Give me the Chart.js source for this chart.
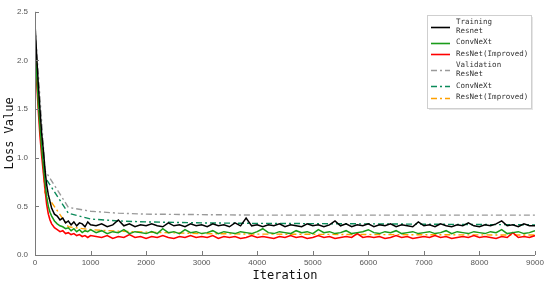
<!DOCTYPE html>
<html>
<head>
<meta charset="utf-8">
<script src="https://cdn.jsdelivr.net/npm/chart.js@4/dist/chart.umd.min.js"></script>
<style>
  html, body { margin: 0; padding: 0; background: #fff; }
  #wrap { width: 550px; height: 286px; }
</style>
</head>
<body>
<div id="wrap"><canvas id="c" width="550" height="286"></canvas></div>
<script>
// iterations for the training curves
const iters = [0, 30, 60, 90, 120, 150, 180, 210, 240, 270, 300, 350, 400, 450, 500, 550, 600, 650, 700, 750, 800, 850, 900, 950, 1000,
  1100, 1200, 1300, 1400, 1500, 1600, 1700, 1800, 1900, 2000,
  2100, 2200, 2300, 2400, 2500, 2600, 2700, 2800, 2900, 3000,
  3100, 3200, 3300, 3400, 3500, 3600, 3700, 3800, 3900, 4000,
  4100, 4200, 4300, 4400, 4500, 4600, 4700, 4800, 4900, 5000,
  5100, 5200, 5300, 5400, 5500, 5600, 5700, 5800, 5900, 6000,
  6100, 6200, 6300, 6400, 6500, 6600, 6700, 6800, 6900, 7000,
  7100, 7200, 7300, 7400, 7500, 7600, 7700, 7800, 7900, 8000,
  8100, 8200, 8300, 8400, 8500, 8600, 8700, 8800, 8900, 9000];

const trainResnet = [2.38, 2.05, 1.75, 1.49, 1.25, 1.08, 0.88, 0.72, 0.62, 0.55, 0.48, 0.42, 0.40, 0.36, 0.38, 0.33, 0.35, 0.31, 0.34, 0.30, 0.33, 0.32, 0.29, 0.34, 0.31,
  0.30, 0.32, 0.29, 0.31, 0.36, 0.30, 0.32, 0.29, 0.31, 0.30,
  0.32, 0.30, 0.29, 0.33, 0.30, 0.31, 0.29, 0.32, 0.30, 0.31,
  0.29, 0.32, 0.30, 0.31, 0.29, 0.33, 0.30, 0.38, 0.30, 0.31,
  0.29, 0.31, 0.30, 0.32, 0.29, 0.31, 0.30, 0.29, 0.32, 0.30,
  0.31, 0.29, 0.31, 0.35, 0.30, 0.32, 0.29, 0.31, 0.30, 0.32,
  0.29, 0.31, 0.30, 0.32, 0.29, 0.31, 0.30, 0.29, 0.34, 0.30,
  0.31, 0.29, 0.32, 0.30, 0.29, 0.31, 0.30, 0.33, 0.30, 0.29,
  0.31, 0.30, 0.32, 0.35, 0.30, 0.31, 0.29, 0.32, 0.30, 0.30];

const trainConvNeXt = [2.15, 1.85, 1.55, 1.30, 1.10, 0.92, 0.75, 0.60, 0.50, 0.44, 0.40, 0.35, 0.32, 0.30, 0.29, 0.27, 0.28, 0.25, 0.27, 0.24, 0.26, 0.23, 0.25, 0.24, 0.26,
  0.23, 0.25, 0.22, 0.24, 0.23, 0.26, 0.22, 0.24, 0.23, 0.22,
  0.24, 0.22, 0.27, 0.23, 0.24, 0.22, 0.26, 0.23, 0.24, 0.22,
  0.23, 0.25, 0.22, 0.24, 0.23, 0.22, 0.24, 0.23, 0.22, 0.24,
  0.27, 0.23, 0.22, 0.24, 0.23, 0.22, 0.25, 0.23, 0.24, 0.22,
  0.26, 0.23, 0.24, 0.22, 0.23, 0.25, 0.22, 0.23, 0.24, 0.26,
  0.23, 0.22, 0.24, 0.23, 0.25, 0.22, 0.23, 0.24, 0.22, 0.23,
  0.24, 0.22, 0.23, 0.25, 0.22, 0.24, 0.23, 0.22, 0.24, 0.23,
  0.22, 0.24, 0.23, 0.26, 0.22, 0.23, 0.24, 0.22, 0.23, 0.25];

const trainImproved = [2.12, 1.78, 1.48, 1.22, 1.02, 0.85, 0.68, 0.52, 0.42, 0.36, 0.32, 0.28, 0.26, 0.24, 0.25, 0.22, 0.23, 0.21, 0.22, 0.20, 0.21, 0.19, 0.20, 0.18, 0.20,
  0.19, 0.18, 0.20, 0.17, 0.19, 0.18, 0.21, 0.18, 0.19, 0.17,
  0.19, 0.18, 0.20, 0.18, 0.17, 0.19, 0.18, 0.20, 0.18, 0.19,
  0.18, 0.20, 0.17, 0.19, 0.18, 0.19, 0.17, 0.18, 0.20, 0.18,
  0.19, 0.18, 0.17, 0.19, 0.18, 0.20, 0.18, 0.19, 0.17, 0.18,
  0.20, 0.18, 0.19, 0.17, 0.18, 0.19, 0.18, 0.22, 0.18, 0.19,
  0.18, 0.19, 0.17, 0.18, 0.20, 0.18, 0.19, 0.17, 0.18, 0.19,
  0.18, 0.20, 0.18, 0.19, 0.17, 0.18, 0.19, 0.18, 0.20, 0.18,
  0.19, 0.18, 0.17, 0.19, 0.18, 0.23, 0.18, 0.19, 0.18, 0.20];

// validation curves (smooth)
const valIters = [0, 180, 600, 1000, 1500, 2000, 3000, 4000, 6000, 9000];
const valResnet = [2.35, 0.87, 0.49, 0.45, 0.43, 0.42, 0.415, 0.41, 0.41, 0.41];
const valConvNeXt = [2.2, 0.80, 0.43, 0.37, 0.35, 0.34, 0.33, 0.325, 0.32, 0.31];
const valImproved = [2.1, 0.64, 0.29, 0.26, 0.245, 0.235, 0.22, 0.215, 0.21, 0.205];

const xTicks = [0, 1000, 2000, 3000, 4000, 5000, 6000, 7000, 8000, 9000];
const yTicks = [0, 0.5, 1.0, 1.5, 2.0, 2.5];

const monoFont = "'DejaVu Sans Mono', 'Liberation Mono', monospace";
const dashDot = [6, 3, 2, 3];

function pts(xs, ys) {
  return xs.map((x, i) => ({ x: x, y: ys[i] }));
}

function line(label, xs, ys, color, dash, width) {
  return {
    label: label,
    data: pts(xs, ys),
    borderColor: color,
    backgroundColor: color,
    borderWidth: width,
    borderDash: dash,
    pointRadius: 0,
    tension: 0,
    fill: false
  };
}

const datasets = [
  line('Resnet', iters, trainResnet, '#000000', [], 1.5),
  line('ConvNeXt', iters, trainConvNeXt, '#1a9c1a', [], 1.5),
  line('ResNet(Improved)', iters, trainImproved, '#ff0000', [], 1.6),
  line('ResNet', valIters, valResnet, '#9a9a9a', dashDot, 1.4),
  line('ConvNeXt', valIters, valConvNeXt, '#0b8a5a', dashDot, 1.4),
  line('ResNet(Improved)', valIters, valImproved, '#ffa000', dashDot, 1.4)
];

// legend entries: [dataset index, text lines]
const legendItems = [
  [0, ['Training', 'Resnet']],
  [1, ['ConvNeXt']],
  [2, ['ResNet(Improved)']],
  [3, ['Validation', 'ResNet']],
  [4, ['ConvNeXt']],
  [5, ['ResNet(Improved)']]
];

const axesPlugin = {
  id: 'axesPlugin',
  afterDraw(chart) {
    const ctx = chart.ctx;
    const xs = chart.scales.x, ys = chart.scales.y;
    const a = chart.chartArea;
    ctx.save();
    ctx.strokeStyle = '#7a7a7a';
    ctx.lineWidth = 1;
    ctx.beginPath();
    ctx.moveTo(a.left + 0.5, a.top);
    ctx.lineTo(a.left + 0.5, a.bottom + 0.5);
    ctx.lineTo(a.right, a.bottom + 0.5);
    xTicks.forEach(v => {
      const px = Math.round(xs.getPixelForValue(v)) + 0.5;
      ctx.moveTo(px, a.bottom);
      ctx.lineTo(px, a.bottom - 4);
    });
    yTicks.forEach(v => {
      const py = Math.round(ys.getPixelForValue(v)) + 0.5;
      ctx.moveTo(a.left, py);
      ctx.lineTo(a.left + 4, py);
    });
    ctx.stroke();

    // legend box
    const bx = 427.5, by = 15.5, bw = 104, bh = 93;
    ctx.fillStyle = '#e6e6e6';
    ctx.fillRect(bx + 1.5, by + 1.5, bw, bh);
    ctx.fillStyle = '#ffffff';
    ctx.fillRect(bx, by, bw, bh);
    ctx.strokeStyle = '#cfcfcf';
    ctx.strokeRect(bx, by, bw, bh);

    ctx.font = '7.5px ' + monoFont;
    ctx.textBaseline = 'middle';
    ctx.textAlign = 'left';
    let y = 22;
    legendItems.forEach(item => {
      const ds = datasets[item[0]];
      const lines = item[1];
      const mid = y + (lines.length - 1) * 4.5;
      ctx.save();
      ctx.strokeStyle = ds.borderColor;
      ctx.lineWidth = 1.6;
      ctx.setLineDash(ds.borderDash);
      ctx.beginPath();
      ctx.moveTo(431, Math.round(mid) + 0.5);
      ctx.lineTo(450, Math.round(mid) + 0.5);
      ctx.stroke();
      ctx.restore();
      ctx.fillStyle = '#333333';
      lines.forEach((t, i) => ctx.fillText(t, 456, y + i * 9));
      y += lines.length * 9 + 2.5;
    });
    ctx.restore();
  }
};

new Chart(document.getElementById('c'), {
  type: 'line',
  data: { datasets: datasets },
  options: {
    responsive: false,
    animation: false,
    events: [],
    layout: { padding: { top: 11, right: 15, left: 0, bottom: 0 } },
    plugins: { legend: { display: false }, tooltip: { enabled: false } },
    scales: {
      x: {
        type: 'linear',
        min: 0,
        max: 9000,
        afterFit(s) { s.height = 31; },
        afterBuildTicks(s) { s.ticks = xTicks.map(v => ({ value: v })); },
        grid: { display: false, drawTicks: false },
        border: { display: false },
        ticks: { padding: 3, color: '#555', font: { family: 'Liberation Sans', size: 8 }, maxRotation: 0, callback: v => String(v) },
        title: { display: true, text: 'Iteration', color: '#111', font: { family: monoFont, size: 12 }, padding: { top: 0, bottom: 3 } }
      },
      y: {
        type: 'linear',
        min: 0,
        max: 2.5,
        afterFit(s) { s.width = 35; },
        afterBuildTicks(s) { s.ticks = yTicks.map(v => ({ value: v })); },
        grid: { display: false, drawTicks: false },
        border: { display: false },
        ticks: { padding: 7, color: '#555', font: { family: 'Liberation Sans', size: 8 }, callback: v => v.toFixed(1) },
        title: { display: true, text: 'Loss Value', color: '#111', font: { family: monoFont, size: 12 }, padding: { top: 3, bottom: 0 } }
      }
    }
  },
  plugins: [axesPlugin]
});
</script>
</body>
</html>
